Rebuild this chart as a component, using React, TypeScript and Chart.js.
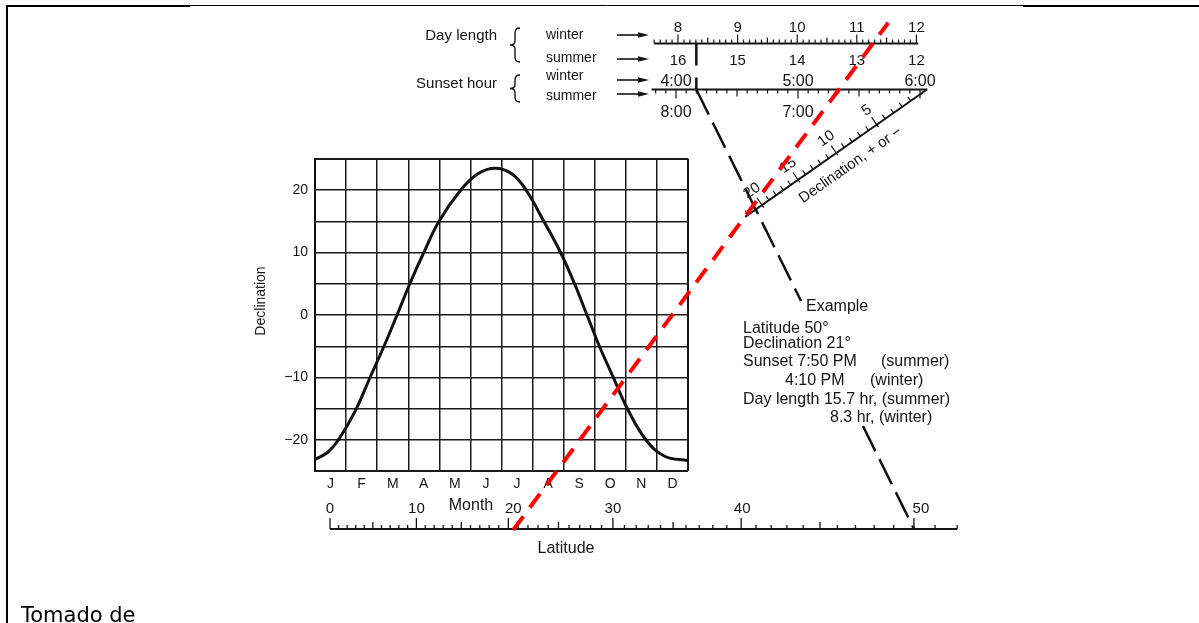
import React, { useEffect, useRef } from "react";
import { Chart, registerables } from "chart.js";

Chart.register(...registerables);

// ---------- data ----------
const MONTHS = ["J", "F", "M", "A", "M", "J", "J", "A", "S", "O", "N", "D"];
const CURVE_MONTH = [0, 0.4, 0.75, 1.3, 1.77, 2.22, 2.64, 3.05, 3.5, 3.99, 4.69, 5.24, 5.79, 6.33, 6.79, 7.36, 7.9, 8.35, 8.75, 9.15, 9.6, 10.05, 10.65, 11.25, 12];
const CURVE_DECL = [-23.1, -22, -20, -15.3, -10, -5, 0, 5, 10, 15, 20, 22.6, 23.5, 22.6, 20, 15, 10, 5, 0, -5, -10, -15, -20, -22.6, -23.3];
const DECL_MIN = -25;
const DECL_MAX = 25;
const DECL_STEP = 5;
const LAT_LABELS = [0, 10, 20, 30, 40, 50];
const LAT_RANGE = [0, 52];
const DAY_WINTER_LABELS = [8, 9, 10, 11, 12];
const DAY_RANGE = [7.6, 12.03];
const SUNSET_HOURS = [4, 5, 6];
const SUNSET_WINTER_LABELS = ["4:00", "5:00", "6:00"];
const SUNSET_SUMMER_LABELS = ["8:00", "7:00"];
const SUNSET_RANGE = [3.8, 6.06];
const DECL_SCALE_LABELS = [5, 10, 15, 20];
const DECL_SCALE_MAX = 22;
const EXAMPLE_LAT = 50;
const EXAMPLE_SUNSET_WINTER = 4 + 10 / 60;
const RED_LAT = 20.5;
const RED_DAY_WINTER = 11.27;

const FONT = '"Liberation Sans", Arial, sans-serif';
const INK = "#141414";

// ---------- nomogram geometry ----------
const G = {
  latY: 529, latX0: 330, latK: 490, latLabelShift: [0, 0, 5, 0, 1, 7],
  dayY: 43.5, dayX8: 678, dayK: 59.6,
  sunY: 89.5, sunX4: 676, sunK: 122,
  declA: [927, 89.5], declU: [-0.819, 0.574], declN: [-0.574, -0.819], declLen: 222,
  exampleGap: [301, 426],
};
const latX = (l: number) => G.latX0 + G.latK * Math.tan((l * Math.PI) / 180);
const dayX = (h: number) => G.dayX8 + (h - 8) * G.dayK;
const sunX = (t: number) => G.sunX4 + (t - 4) * G.sunK;
const declS = (d: number) => 9.2 + 10.69 * d - 0.054 * d * d;
const declP = (s: number, off = 0) => [
  G.declA[0] + G.declU[0] * s + G.declN[0] * off,
  G.declA[1] + G.declU[1] * s + G.declN[1] * off,
];

function seg(ctx: CanvasRenderingContext2D, x0: number, y0: number, x1: number, y1: number) {
  ctx.beginPath();
  ctx.moveTo(x0, y0);
  ctx.lineTo(x1, y1);
  ctx.stroke();
}
function txt(ctx: CanvasRenderingContext2D, s: string, x: number, y: number, size: number, align: CanvasTextAlign = "left", rot = 0, baseline: CanvasTextBaseline = "alphabetic", family = FONT) {
  ctx.save();
  ctx.translate(x, y);
  if (rot) ctx.rotate(rot);
  ctx.font = `${size}px ${family}`;
  ctx.textAlign = align;
  ctx.textBaseline = baseline;
  ctx.fillText(s, 0, 0);
  ctx.restore();
}
function arrow(ctx: CanvasRenderingContext2D, x0: number, x1: number, y: number) {
  ctx.lineWidth = 1.6;
  seg(ctx, x0, y, x1 - 8, y);
  ctx.beginPath();
  ctx.moveTo(x1, y);
  ctx.lineTo(x1 - 11, y - 2.8);
  ctx.lineTo(x1 - 11, y + 2.8);
  ctx.closePath();
  ctx.fill();
}
function brace(ctx: CanvasRenderingContext2D, x: number, y0: number, y1: number) {
  const w = 5;
  const ym = (y0 + y1) / 2;
  ctx.lineWidth = 1.4;
  ctx.beginPath();
  ctx.moveTo(x + w, y0);
  ctx.quadraticCurveTo(x, y0, x, y0 + 5);
  ctx.lineTo(x, ym - 4);
  ctx.quadraticCurveTo(x, ym, x - w, ym);
  ctx.quadraticCurveTo(x, ym, x, ym + 4);
  ctx.lineTo(x, y1 - 5);
  ctx.quadraticCurveTo(x, y1, x + w, y1);
  ctx.stroke();
}

const nomogram = {
  id: "nomogram",
  afterDraw(chart: any) {
    const ctx: CanvasRenderingContext2D = chart.ctx;
    ctx.save();
    ctx.strokeStyle = "#000";
    ctx.fillStyle = "#000";
    ctx.lineCap = "butt";

    // page frame
    ctx.lineWidth = 2;
    seg(ctx, 6, 6, 190, 6);
    seg(ctx, 1023, 6, 1199, 6);
    seg(ctx, 7, 5, 7, 623);
    ctx.lineWidth = 1;
    seg(ctx, 190, 5.5, 1023, 5.5);
    txt(ctx, "Tomado de", 21, 621.5, 21, "left", 0, "alphabetic", '"DejaVu Sans", Verdana, sans-serif');

    ctx.strokeStyle = INK;
    ctx.fillStyle = INK;

    // titles of the declination chart
    txt(ctx, "Declination", 261, 301, 14, "center", -Math.PI / 2, "middle");
    txt(ctx, "Month", 471, 510, 16, "center");

    // ---- latitude scale ----
    ctx.lineWidth = 2;
    seg(ctx, latX(LAT_RANGE[0]), G.latY, latX(LAT_RANGE[1]), G.latY);
    ctx.lineWidth = 1.3;
    for (let l = LAT_RANGE[0]; l <= LAT_RANGE[1]; l++) {
      const len = l % 10 === 0 ? 11 : l % 5 === 0 ? 7 : 4;
      seg(ctx, latX(l), G.latY, latX(l), G.latY - len);
    }
    LAT_LABELS.forEach((l, i) => txt(ctx, String(l), latX(l) + G.latLabelShift[i], 513, 15, "center"));
    txt(ctx, "Latitude", 566, 553, 16, "center");

    // ---- day length scale ----
    ctx.lineWidth = 2;
    seg(ctx, dayX(DAY_RANGE[0]), G.dayY, dayX(DAY_RANGE[1]), G.dayY);
    ctx.lineWidth = 1.2;
    for (let i = Math.round(DAY_RANGE[0] * 10); i <= 120; i++) {
      const len = i % 10 === 0 ? 9 : i % 5 === 0 ? 6 : 4;
      const x = dayX(i / 10);
      seg(ctx, x, G.dayY, x, G.dayY - len);
    }
    DAY_WINTER_LABELS.forEach((h) => {
      txt(ctx, String(h), dayX(h), 32, 15, "center");
      txt(ctx, String(24 - h), dayX(h), 65, 15, "center");
    });

    // ---- sunset scale ----
    ctx.lineWidth = 2;
    seg(ctx, sunX(SUNSET_RANGE[0]), G.sunY, sunX(SUNSET_RANGE[1]), G.sunY);
    ctx.lineWidth = 1.2;
    for (let m = 230; m <= 360; m += 5) {
      const len = m % 60 === 0 ? 9 : m % 30 === 0 ? 7 : 4;
      const x = sunX(m / 60);
      seg(ctx, x, G.sunY, x, G.sunY + len);
    }
    SUNSET_HOURS.forEach((h, i) => {
      txt(ctx, SUNSET_WINTER_LABELS[i], sunX(h), 86, 16, "center");
      if (SUNSET_SUMMER_LABELS[i]) txt(ctx, SUNSET_SUMMER_LABELS[i], sunX(h), 117, 16, "center");
    });

    // ---- declination scale (slanted) ----
    const rot = Math.atan2(-G.declU[1], -G.declU[0]);
    ctx.lineWidth = 2;
    const pEnd = declP(G.declLen);
    seg(ctx, G.declA[0], G.declA[1], pEnd[0], pEnd[1]);
    ctx.lineWidth = 1.2;
    for (let d = 1; d <= DECL_SCALE_MAX; d++) {
      const s = declS(d);
      const major = d % 5 === 0;
      const a = declP(s, major ? -3 : 0);
      const b = declP(s, major ? 9 : 5);
      seg(ctx, a[0], a[1], b[0], b[1]);
    }
    DECL_SCALE_LABELS.forEach((d) => {
      const p = declP(declS(d), 17.5);
      txt(ctx, String(d), p[0], p[1], 15, "center", rot, "middle");
    });
    const lp = declP(106, -18);
    txt(ctx, "Declination, + or \u2212", lp[0], lp[1], 15, "center", rot, "middle");

    // ---- left labels of the top scales ----
    txt(ctx, "Day length", 497, 40, 15, "right");
    txt(ctx, "Sunset hour", 497, 88, 15, "right");
    brace(ctx, 515, 28, 62);
    brace(ctx, 515, 75, 102);
    txt(ctx, "winter", 546, 38.5, 14);
    txt(ctx, "summer", 546, 62, 14);
    txt(ctx, "winter", 546, 80, 14);
    txt(ctx, "summer", 546, 100, 14);
    arrow(ctx, 617, 649, 35);
    arrow(ctx, 617, 649, 59);
    arrow(ctx, 617, 649, 80);
    arrow(ctx, 617, 649, 94);

    // ---- example text ----
    const F = 16;
    txt(ctx, "Example", 806, 311, F);
    txt(ctx, "Latitude 50\u00b0", 743, 333, F);
    txt(ctx, "Declination 21\u00b0", 743, 348, F);
    txt(ctx, "Sunset 7:50 PM", 743, 366, F);
    txt(ctx, "(summer)", 881, 366, F);
    txt(ctx, "4:10 PM", 785, 385, F);
    txt(ctx, "(winter)", 870, 385, F);
    txt(ctx, "Day length 15.7 hr, (summer)", 743, 404, F);
    txt(ctx, "8.3 hr, (winter)", 830, 422, F);

    // ---- example line (black dashed) ----
    ctx.strokeStyle = "#111";
    ctx.lineWidth = 2.5;
    const xs = sunX(EXAMPLE_SUNSET_WINTER);
    const xl = latX(EXAMPLE_LAT);
    const xAt = (y: number) => xs + ((xl - xs) * (y - G.sunY)) / (G.latY - G.sunY);
    ctx.setLineDash([22, 12]);
    seg(ctx, xs, G.dayY, xs, G.sunY);
    ctx.setLineDash([28, 9]);
    seg(ctx, xs, G.sunY, xAt(G.exampleGap[0]), G.exampleGap[0]);
    seg(ctx, xAt(G.exampleGap[1]), G.exampleGap[1], xl, G.latY);

    // ---- red dashed line ----
    const r0 = [latX(RED_LAT), G.latY + 1];
    const r1 = [dayX(RED_DAY_WINTER), G.dayY];
    const k = (G.latY + 1 - 22.7) / (G.latY + 1 - G.dayY);
    ctx.strokeStyle = "#ff0000";
    ctx.lineWidth = 4;
    ctx.setLineDash([17, 11]);
    seg(ctx, r0[0], r0[1], r0[0] + (r1[0] - r0[0]) * k, r0[1] + (r1[1] - r0[1]) * k);
    ctx.setLineDash([]);
    ctx.restore();
  },
};

export default function App() {
  const ref = useRef<HTMLCanvasElement>(null);
  useEffect(() => {
    const canvas = ref.current!;
    const edge = (v: number, a: number, b: number) => (v === a || v === b ? 2 : 1.5);
    const chart = new Chart(canvas, {
      type: "line",
      data: {
        datasets: [
          {
            data: CURVE_MONTH.map((m, i) => ({ x: m, y: CURVE_DECL[i] })),
            borderColor: "#111",
            borderWidth: 3,
            pointRadius: 0,
            fill: false,
            tension: 0.4,
            xAxisID: "x",
            yAxisID: "y",
          },
        ],
      },
      options: {
        responsive: false,
        animation: false,
        devicePixelRatio: 1,
        events: [],
        layout: { padding: { left: 250, top: 158.75, right: 511, bottom: 121.75 } },
        plugins: { legend: { display: false }, tooltip: { enabled: false } },
        scales: {
          x: {
            type: "linear",
            position: "bottom",
            min: 0,
            max: 12,
            ticks: { display: false, stepSize: 1 },
            grid: {
              color: "#1a1a1a",
              lineWidth: (c: any) => edge(c.tick?.value, 0, 12),
              drawTicks: false,
            },
            border: { display: false },
            afterFit: (s: any) => { s.height = 0; },
          },
          xm: {
            type: "category",
            position: "bottom",
            labels: MONTHS,
            offset: true,
            grid: { display: false, drawTicks: false },
            border: { display: false },
            ticks: { color: INK, font: { family: FONT, size: 14 }, padding: 4, maxRotation: 0, autoSkip: false },
            afterFit: (s: any) => { s.height = 30; },
          },
          y: {
            type: "linear",
            min: DECL_MIN,
            max: DECL_MAX,
            ticks: {
              stepSize: DECL_STEP,
              padding: 7,
              color: INK,
              font: { family: FONT, size: 14 },
              callback: (v: any) => (v % 10 === 0 ? (v < 0 ? "\u2212" + Math.abs(v) : String(v)) : ""),
            },
            grid: {
              color: "#1a1a1a",
              lineWidth: (c: any) => edge(c.tick?.value, DECL_MIN, DECL_MAX),
              drawTicks: false,
            },
            border: { display: true, color: "#111", width: 2 },
            afterFit: (s: any) => { s.width = 65; },
          },
        },
      } as any,
      plugins: [nomogram],
    });
    return () => chart.destroy();
  }, []);
  return (
    <div style={{ position: "fixed", left: 0, top: 0, width: 1199, height: 623, background: "#fff" }}>
      <canvas ref={ref} width={1199} height={623} style={{ display: "block" }} />
    </div>
  );
}
